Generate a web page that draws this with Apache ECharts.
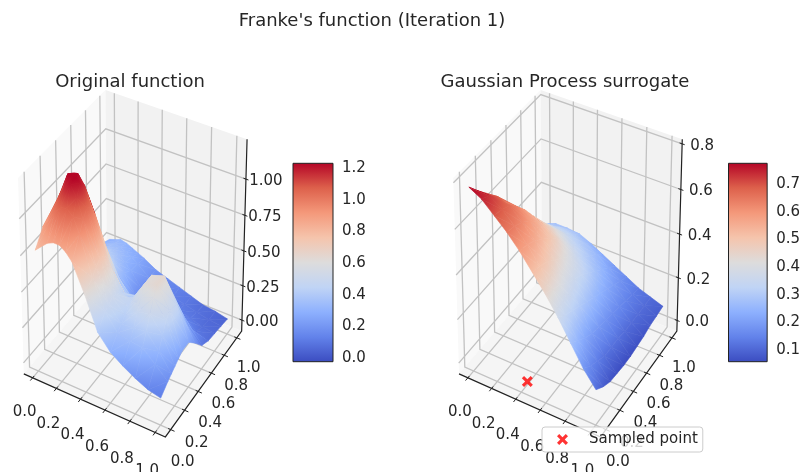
<!DOCTYPE html>
<html>
<head>
<meta charset="utf-8">
<style>html,body{margin:0;padding:0;background:#fff}#chart{width:803px;height:472px}</style>
<script src="https://cdn.jsdelivr.net/npm/echarts@6/dist/echarts.min.js"></script>
</head>
<body>
<div id="chart"></div>
<script>
// heights, one row per y value
var originalX = [0, 0.1, 0.15, 0.2, 0.25, 0.3, 0.4, 0.5, 0.6, 0.7, 0.8, 0.9, 1];
var originalY = [0, 0.1, 0.15, 0.2, 0.25, 0.3, 0.4, 0.5, 0.6, 0.7, 0.8, 0.9, 1];
var originalZ = [
    [0.77, 0.85, 0.87, 0.87, 0.84, 0.79, 0.60, 0.38, 0.28, 0.22, 0.17, 0.13, 0.11],
    [0.87, 1.00, 1.05, 1.06, 1.02, 0.92, 0.66, 0.46, 0.35, 0.33, 0.32, 0.24, 0.16],
    [0.88, 1.07, 1.15, 1.19, 1.12, 0.99, 0.70, 0.48, 0.38, 0.39, 0.40, 0.30, 0.18],
    [0.88, 1.10, 1.22, 1.24, 1.19, 1.04, 0.73, 0.50, 0.41, 0.47, 0.49, 0.38, 0.20],
    [0.85, 1.07, 1.18, 1.21, 1.15, 1.02, 0.72, 0.49, 0.44, 0.54, 0.57, 0.45, 0.22],
    [0.79, 1.00, 1.08, 1.10, 1.05, 0.95, 0.68, 0.47, 0.46, 0.60, 0.63, 0.49, 0.24],
    [0.66, 0.80, 0.84, 0.85, 0.81, 0.72, 0.52, 0.38, 0.42, 0.60, 0.63, 0.47, 0.24],
    [0.55, 0.62, 0.64, 0.62, 0.58, 0.50, 0.37, 0.29, 0.31, 0.43, 0.46, 0.33, 0.17],
    [0.45, 0.49, 0.49, 0.47, 0.43, 0.36, 0.25, 0.18, 0.19, 0.27, 0.27, 0.18, 0.09],
    [0.38, 0.42, 0.41, 0.39, 0.35, 0.30, 0.17, 0.09, 0.11, 0.16, 0.14, 0.09, 0.06],
    [0.33, 0.36, 0.36, 0.34, 0.30, 0.26, 0.15, 0.08, 0.10, 0.11, 0.09, 0.06, 0.05],
    [0.30, 0.33, 0.32, 0.30, 0.28, 0.25, 0.18, 0.13, 0.11, 0.09, 0.07, 0.05, 0.04],
    [0.27, 0.30, 0.29, 0.27, 0.25, 0.23, 0.18, 0.15, 0.12, 0.09, 0.06, 0.05, 0.03]
];
var surrogateX = [0, 0.1, 0.2, 0.3, 0.4, 0.5, 0.6, 0.7, 0.8, 0.9, 1];
var surrogateY = [0, 0.1, 0.2, 0.3, 0.4, 0.5, 0.6, 0.7, 0.8, 0.9, 1];
var surrogateZ = [
    [0.77, 0.74, 0.69, 0.64, 0.58, 0.51, 0.44, 0.36, 0.27, 0.18, 0.11],
    [0.72, 0.72, 0.68, 0.63, 0.57, 0.50, 0.42, 0.33, 0.24, 0.15, 0.08],
    [0.66, 0.68, 0.66, 0.61, 0.55, 0.48, 0.40, 0.31, 0.21, 0.13, 0.06],
    [0.59, 0.62, 0.62, 0.58, 0.52, 0.45, 0.37, 0.29, 0.19, 0.11, 0.055],
    [0.52, 0.56, 0.57, 0.54, 0.49, 0.42, 0.35, 0.27, 0.18, 0.11, 0.05],
    [0.46, 0.50, 0.51, 0.49, 0.45, 0.39, 0.33, 0.25, 0.17, 0.11, 0.05],
    [0.40, 0.44, 0.44, 0.44, 0.40, 0.35, 0.30, 0.23, 0.16, 0.10, 0.055],
    [0.35, 0.39, 0.40, 0.39, 0.35, 0.31, 0.27, 0.21, 0.15, 0.10, 0.06],
    [0.31, 0.34, 0.35, 0.34, 0.31, 0.28, 0.24, 0.19, 0.14, 0.10, 0.07],
    [0.28, 0.30, 0.31, 0.30, 0.28, 0.25, 0.21, 0.17, 0.13, 0.10, 0.075],
    [0.25, 0.27, 0.27, 0.265, 0.24, 0.21, 0.18, 0.15, 0.12, 0.10, 0.08]
];
var sampledPoint = [0.385, 0.106];
var xyTicks = [0, 0.2, 0.4, 0.6, 0.8, 1];
var originalZTicks = [0, 0.25, 0.5, 0.75, 1];
var surrogateZTicks = [0, 0.2, 0.4, 0.6, 0.8];
var originalBarTicks = [0, 0.2, 0.4, 0.6, 0.8, 1, 1.2];
var surrogateBarTicks = [0.1, 0.2, 0.3, 0.4, 0.5, 0.6, 0.7];
var coolwarm = ['#3b4cc0', '#6282ea', '#8db0fe', '#c0d4f5', '#dddcdc', '#f5c4ac', '#f4987a', '#dd604b', '#b40426'];

var FONT = 'DejaVu Sans';
var TEXT = '#262626';

function hex(c) {
    return [parseInt(c.substr(1, 2), 16), parseInt(c.substr(3, 2), 16), parseInt(c.substr(5, 2), 16)];
}
function cmap(t) {
    t = Math.max(0, Math.min(1, t));
    var s = t * (coolwarm.length - 1);
    var i = Math.min(Math.floor(s), coolwarm.length - 2);
    var a = hex(coolwarm[i]), b = hex(coolwarm[i + 1]), f = s - i;
    return 'rgb(' + Math.round(a[0] + (b[0] - a[0]) * f) + ',' + Math.round(a[1] + (b[1] - a[1]) * f) + ',' + Math.round(a[2] + (b[2] - a[2]) * f) + ')';
}

// same view as a matplotlib 3d axes: elev 30, azim -60, dist 10
function toView(p, x, y, z) {
    var a = (x - p.xlim[0]) / (p.xlim[1] - p.xlim[0]) - 0.5;
    var b = (y - p.ylim[0]) / (p.ylim[1] - p.ylim[0]) - 0.5;
    var c = (z - p.zlim[0]) / (p.zlim[1] - p.zlim[0]) - 0.5;
    var u = 0.866025 * a + 0.5 * b;
    var v = -0.25 * a + 0.433013 * b + 0.866025 * c;
    var w = 10 - (0.433013 * a - 0.75 * b + 0.5 * c);
    return [u / w, v / w, w];
}

function buildCells(p, xs, ys, zs) {
    var cells = [];
    for (var j = 0; j < ys.length - 1; j++) {
        for (var i = 0; i < xs.length - 1; i++) {
            var mid = toView(p, (xs[i] + xs[i + 1]) / 2, (ys[j] + ys[j + 1]) / 2, (zs[j][i] + zs[j][i + 1] + zs[j + 1][i] + zs[j + 1][i + 1]) / 4);
            cells.push([xs[i], xs[i + 1], ys[j], ys[j + 1], zs[j][i], zs[j][i + 1], zs[j + 1][i + 1], zs[j + 1][i], mid[2]]);
        }
    }
    cells.sort(function (a, b) { return b[8] - a[8]; });
    return cells;
}

// one triangle, colour running straight along the height gradient in pixel space
function triangle(p, a, b, c, za, zb, zc) {
    var ux = b[0] - a[0], uy = b[1] - a[1], vx = c[0] - a[0], vy = c[1] - a[1];
    var det = ux * vy - uy * vx;
    var du = zb - za, dv = zc - za;
    var pts = [a, b, c];
    var zz = [za, zb, zc];
    var lo = 0, hi = 0;
    for (var k = 1; k < 3; k++) {
        if (zz[k] < zz[lo]) lo = k;
        if (zz[k] > zz[hi]) hi = k;
    }
    var fill;
    var span = zz[hi] - zz[lo];
    var gx = det ? (du * vy - dv * uy) / det : 0;
    var gy = det ? (dv * ux - du * vx) / det : 0;
    var g2 = gx * gx + gy * gy;
    if (span < 1e-6 || g2 < 1e-12) {
        fill = cmap((za - p.vmin) / (p.vmax - p.vmin));
    } else {
        var stops = [];
        for (var s = 0; s <= 4; s++) {
            stops.push({ offset: s / 4, color: cmap((zz[lo] + span * s / 4 - p.vmin) / (p.vmax - p.vmin)) });
        }
        fill = new echarts.graphic.LinearGradient(pts[lo][0], pts[lo][1], pts[lo][0] + gx * span / g2, pts[lo][1] + gy * span / g2, stops, true);
    }
    return { type: 'polygon', shape: { points: pts }, style: { fill: fill, stroke: fill, lineWidth: 0.6 } };
}

function surfaceItem(p) {
    return function (params, api) {
        var x0 = api.value(0), x1 = api.value(1), y0 = api.value(2), y1 = api.value(3);
        var zz = [api.value(4), api.value(5), api.value(6), api.value(7)];
        var xx = [x0, x1, x1, x0], yy = [y0, y0, y1, y1];
        var pts = [];
        for (var k = 0; k < 4; k++) {
            var q = toView(p, xx[k], yy[k], zz[k]);
            pts.push(api.coord([q[0], q[1]]));
        }
        return {
            type: 'group', silent: true,
            children: [
                triangle(p, pts[0], pts[1], pts[2], zz[0], zz[1], zz[2]),
                triangle(p, pts[0], pts[2], pts[3], zz[0], zz[2], zz[3])
            ]
        };
    };
}

function boxItem(p) {
    return function (params, api) {
        var kids = [];
        var X0 = p.xlim[0], X1 = p.xlim[1], Y0 = p.ylim[0], Y1 = p.ylim[1], Z0 = p.zlim[0], Z1 = p.zlim[1];
        function pt(x, y, z) {
            var q = toView(p, x, y, z);
            return api.coord([q[0], q[1]]);
        }
        function pane(a, fill) {
            kids.push({ type: 'polygon', shape: { points: a }, style: { fill: fill } });
        }
        function line(a, color, width) {
            kids.push({ type: 'polyline', shape: { points: a }, style: { fill: null, stroke: color, lineWidth: width } });
        }
        function label(txt, at, dx, dy) {
            kids.push({ type: 'text', style: { text: txt, x: at[0] + dx, y: at[1] + dy, align: 'center', verticalAlign: 'middle', fontSize: 15, fontFamily: FONT, fill: TEXT } });
        }
        pane([pt(X0, Y0, Z0), pt(X0, Y1, Z0), pt(X0, Y1, Z1), pt(X0, Y0, Z1)], '#f9f9f9');
        pane([pt(X0, Y1, Z0), pt(X1, Y1, Z0), pt(X1, Y1, Z1), pt(X0, Y1, Z1)], '#f2f2f2');
        pane([pt(X0, Y0, Z0), pt(X1, Y0, Z0), pt(X1, Y1, Z0), pt(X0, Y1, Z0)], '#f5f5f5');
        var i, v;
        for (i = 0; i < xyTicks.length; i++) {
            v = xyTicks[i];
            line([pt(v, Y0, Z0), pt(v, Y1, Z0), pt(v, Y1, Z1)], '#c2c2c2', 1.3);
            line([pt(X1, v, Z0), pt(X0, v, Z0), pt(X0, v, Z1)], '#c2c2c2', 1.3);
        }
        for (i = 0; i < p.zTicks.length; i++) {
            v = p.zTicks[i];
            line([pt(X0, Y0, v), pt(X0, Y1, v), pt(X1, Y1, v)], '#c2c2c2', 1.3);
        }
        line([pt(X0, Y0, Z0), pt(X1, Y0, Z0), pt(X1, Y1, Z0), pt(X1, Y1, Z1)], '#222', 1.2);
        for (i = 0; i < xyTicks.length; i++) {
            v = xyTicks[i];
            line([pt(v, Y0 + 0.02, Z0), pt(v, Y0 - 0.03, Z0)], '#222', 1);
            line([pt(X1 - 0.02, v, Z0), pt(X1 + 0.03, v, Z0)], '#222', 1);
            label(v.toFixed(1), pt(v, Y0, Z0), -8, 34.5 + 4 * v);
            label(v.toFixed(1), pt(X1, v, Z0), 12, 33 - 3 * v);
        }
        for (i = 0; i < p.zTicks.length; i++) {
            v = p.zTicks[i];
            line([pt(X1 - 0.02, Y1, v), pt(X1 + 0.02, Y1, v)], '#222', 1);
            label(v.toFixed(p.zDigits), pt(X1, Y1, v), p.zLabelDx, 2);
        }
        return { type: 'group', children: kids, silent: true };
    };
}

function barItem(p) {
    return function (params, api) {
        var a = api.coord([0, p.vmin]), b = api.coord([1, p.vmax]);
        var stops = [];
        for (var i = 0; i < coolwarm.length; i++) {
            stops.push({ offset: i / (coolwarm.length - 1), color: coolwarm[coolwarm.length - 1 - i] });
        }
        return {
            type: 'rect',
            shape: { x: a[0], y: b[1], width: b[0] - a[0], height: a[1] - b[1] },
            style: { fill: new echarts.graphic.LinearGradient(0, 0, 0, 1, stops), stroke: '#222', lineWidth: 1 },
            silent: true
        };
    };
}

var panels = [
    { xlim: [-0.075, 1.08], ylim: [-0.075, 1.08], zlim: [-0.08, 1.27], vmin: -0.038, vmax: 1.215, xs: originalX, ys: originalY, zs: originalZ, zTicks: originalZTicks, zDigits: 2, zLabelDx: 20, left: 0, width: 281.5, viewMin: -0.08225, barLeft: 293, barTicks: originalBarTicks },
    { xlim: [-0.075, 1.08], ylim: [-0.075, 1.08], zlim: [-0.05, 0.82], vmin: 0.048, vmax: 0.767, xs: surrogateX, ys: surrogateY, zs: surrogateZ, zTicks: surrogateZTicks, zDigits: 1, zLabelDx: 20, left: 414.4, width: 302.3, viewMin: -0.095, barLeft: 728.5, barTicks: surrogateBarTicks }
];

var grids = [], xAxes = [], yAxes = [], series = [];
panels.forEach(function (p, n) {
    var g3 = grids.length;
    grids.push({ left: p.left, top: 56.3, width: p.width, height: 413.8 });
    xAxes.push({ type: 'value', gridIndex: g3, min: p.viewMin, max: 0.09, show: false });
    yAxes.push({ type: 'value', gridIndex: g3, min: -0.095, max: 0.09, show: false });
    series.push({ type: 'custom', xAxisIndex: g3, yAxisIndex: g3, z: 1, silent: true, data: [[0, 0]], renderItem: boxItem(p) });
    series.push({ type: 'custom', xAxisIndex: g3, yAxisIndex: g3, z: 2, silent: true, progressive: 0, data: buildCells(p, p.xs, p.ys, p.zs), renderItem: surfaceItem(p) });

    var gb = grids.length;
    grids.push({ left: p.barLeft, top: 163.3, width: 40, height: 198.4 });
    xAxes.push({ type: 'value', gridIndex: gb, min: 0, max: 1, show: false });
    yAxes.push({
        type: 'value', gridIndex: gb, position: 'right', min: p.vmin, max: p.vmax,
        splitLine: { show: false }, axisLine: { show: false },
        axisTick: { length: 5, lineStyle: { color: '#222' }, customValues: p.barTicks },
        axisLabel: {
            margin: 9, customValues: p.barTicks,
            rich: { t: { fontSize: 15, fontFamily: FONT, color: TEXT, padding: [5, 0, 0, 0] } },
            formatter: function (v) { return '{t|' + v.toFixed(1) + '}'; }
        }
    });
    series.push({ type: 'custom', xAxisIndex: gb, yAxisIndex: gb, z: 2, silent: true, data: [[0, 0]], renderItem: barItem(p) });
});

var sampled = toView(panels[1], sampledPoint[0], sampledPoint[1], panels[1].zlim[0]);
var crossIcon = 'path://M2,0 L5,3 L8,0 L10,2 L7,5 L10,8 L8,10 L5,7 L2,10 L0,8 L3,5 L0,2 Z';
series.push({
    type: 'scatter', name: 'Sampled point', xAxisIndex: 2, yAxisIndex: 2, z: 3, silent: true,
    symbol: crossIcon, symbolSize: 11, itemStyle: { color: '#ff0000' }, data: [[sampled[0], sampled[1]]]
});

var chart = echarts.init(document.getElementById('chart'), null, { renderer: 'canvas' });
chart.setOption({
    animation: false,
    backgroundColor: '#fff',
    title: [
        { text: "Franke's function (Iteration 1)", left: 367, top: 7, textAlign: 'center', textStyle: { fontFamily: FONT, fontSize: 18, fontWeight: 'normal', color: TEXT } },
        { text: 'Original function', left: 125, top: 68, textAlign: 'center', textStyle: { fontFamily: FONT, fontSize: 18, fontWeight: 'normal', color: TEXT } },
        { text: 'Gaussian Process surrogate', left: 560, top: 68, textAlign: 'center', textStyle: { fontFamily: FONT, fontSize: 18, fontWeight: 'normal', color: TEXT } }
    ],
    legend: {
        left: 542, top: 427, z: 10, orient: 'horizontal', selectedMode: false,
        padding: [5, 5, 5, 15], itemWidth: 11, itemHeight: 11,
        backgroundColor: 'rgba(255,255,255,0.8)', borderColor: '#cccccc', borderWidth: 1, borderRadius: 3,
        textStyle: { fontFamily: FONT, fontSize: 15, color: TEXT, padding: [0, 0, 0, 16] },
        data: [{ name: 'Sampled point', icon: crossIcon }]
    },
    grid: grids,
    xAxis: xAxes,
    yAxis: yAxes,
    series: series
});
</script>
</body>
</html>
